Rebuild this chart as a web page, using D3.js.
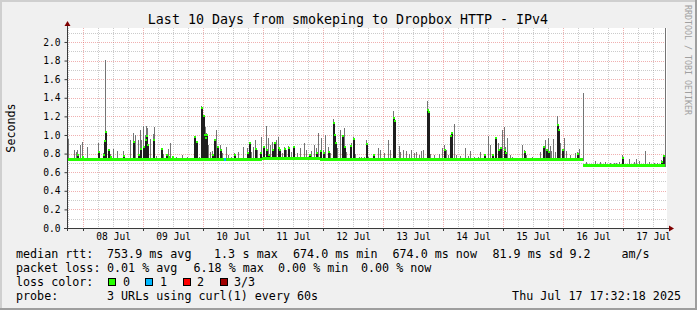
<!DOCTYPE html>
<html><head><meta charset="utf-8">
<script src="https://cdn.jsdelivr.net/npm/d3@7"></script>
<style>
html,body{margin:0;padding:0;background:#f0f0f0;}
svg{display:block;}
text{font-family:"DejaVu Sans Mono",monospace;}
</style></head><body>
<svg id="c" width="697" height="310"></svg>
<script>
// ---------------- data ----------------
const title = "Last 10 Days from smokeping to Dropbox HTTP - IPv4";
const yLabel = "Seconds";
const watermark = "RRDTOOL / TOBI OETIKER";
const startTime = "2025-07-07T17:32:18Z";
const endTime = "2025-07-17T17:32:18Z";
const yMax = 2.15;
const yMajorTicks = [0.0, 0.2, 0.4, 0.6, 0.8, 1.0, 1.2, 1.4, 1.6, 1.8, 2.0];
const yMinorTicks = [0.1, 0.3, 0.5, 0.7, 0.9, 1.1, 1.3, 1.5, 1.7, 1.9, 2.1];
const xLabelDays = ["2025-07-08","2025-07-09","2025-07-10","2025-07-11","2025-07-12",
                    "2025-07-13","2025-07-14","2025-07-15","2025-07-16","2025-07-17"];

// median baseline (hours since start)
const medianStartHours = [0, 78, 101, 206.5];
const medianEndHours   = [78, 101, 206.5, 239.2];
const medianValues     = [0.742, 0.752, 0.742, 0.677];

// smoke spikes: hour since start, max ping (s), median when elevated (0 = at baseline)
const spikeHours = [0.4,2.8,3.6,4.1,5.3,5.9,8.0,12.4,14.4,14.8,15.2,16.4,17.3,18.4,20.0,22.4,25.3,26.3,27.3,28.3,29.1,29.6,30.5,31.2,31.6,32.1,33.3,34.4,34.9,35.7,37.7,38.4,39.6,
 40.4,41.3,42.0,43.7,46.0,48.0,50.9,51.4,52.0,52.7,53.7,54.2,54.7,55.2,55.7,56.4,57.1,58.0,58.9,59.5,60.0,61.0,62.0,63.5,64.4,65.6,66.7,68.4,70.4,72.0,72.8,73.6,74.4,75.3,76.0,77.1,77.7,78.4,79.6,
 80.4,81.1,81.9,82.9,83.6,84.3,84.9,86.0,86.9,87.7,88.4,89.6,90.4,92.0,93.3,94.7,95.6,96.7,97.6,98.7,99.7,100.4,101.1,101.6,102.4,103.3,104.3,105.1,106.2,106.6,107.3,108.0,109.1,110.0,110.7,111.7,113.1,113.7,114.4,115.3,116.7,117.6,118.7,119.6,
 120.4,122.3,124.4,125.3,126.7,128.4,129.3,130.3,130.7,131.3,132.7,133.3,134.4,135.7,136.7,137.7,138.7,139.7,140.7,141.6,142.4,144.0,144.4,145.3,146.7,148.7,150.0,150.9,151.6,152.3,153.1,153.7,154.9,155.7,157.3,159.3,
 160.4,161.3,162.7,164.4,165.3,166.7,168.4,169.3,170.0,171.1,171.7,172.4,173.3,174.0,174.7,175.3,176.0,177.1,178.0,182.0,182.9,183.7,186.0,189.1,190.4,191.1,191.7,192.3,193.1,193.6,194.4,195.3,196.1,196.5,197.3,198.0,198.7,199.6,
 201.3,203.3,204.0,204.7,206.4,207.7,211.3,213.3,215.3,217.3,218.7,219.7,220.7,222.1,224.7,226.7,227.7,228.7,231.3,232.7,234.7,236.0,237.6,238.4,239.0];
const spikeMax = [0.957,0.839,0.821,0.839,0.892,0.928,0.867,0.910,0.803,0.93,1.806,0.846,0.792,0.846,0.832,0.832,0.946,1.018,1.000,0.946,1.054,0.946,1.097,1.0,1.097,1.072,0.953,1.011,1.090,0.774,0.856,0.792,0.785,
 0.846,0.910,0.767,0.767,0.785,0.767,0.982,0.939,0.874,0.767,1.312,1.2,1.0,1.090,1.018,0.892,0.821,0.832,0.946,1.054,0.874,0.892,0.810,0.867,0.785,0.767,0.803,0.821,0.867,0.856,0.918,0.821,0.867,0.946,0.839,0.803,0.975,0.867,1.097,
 0.964,0.892,0.928,0.910,0.946,0.975,0.839,0.803,0.867,0.839,0.882,0.821,0.882,0.803,0.856,0.910,0.839,0.785,0.832,0.892,0.856,1.025,0.832,0.964,0.839,1.000,0.867,0.803,1.168,1.0,0.946,0.856,1.054,0.989,1.072,0.821,0.892,0.918,0.982,0.796,0.767,0.767,0.767,0.946,
 0.767,0.785,0.856,0.839,0.803,0.946,0.839,1.262,1.15,0.785,0.882,0.821,0.839,0.832,0.792,0.839,0.803,0.821,0.785,0.832,0.839,1.369,1.25,0.796,0.785,0.792,0.856,0.892,0.839,0.785,1.000,1.025,1.118,0.785,0.774,0.856,
 0.774,0.832,0.767,0.767,0.821,0.785,0.989,0.892,0.796,0.975,0.892,0.918,0.856,1.054,1.082,0.874,0.964,0.785,0.767,0.892,0.839,0.785,0.767,0.821,0.867,0.946,0.839,0.964,0.882,0.832,0.953,0.821,1.204,1.05,0.910,0.846,0.964,0.832,
 0.785,0.803,0.821,0.846,1.448,0.713,0.724,0.713,0.713,0.702,0.702,0.702,0.713,0.785,0.738,0.713,0.738,0.724,0.828,0.713,0.702,0.695,0.731,0.774,2.2];
const spikeMedian = [0,0,0,0.785,0,0.767,0,0.821,0.785,0.93,1.036,0.839,0.767,0,0,0.774,0,0.928,0,0.785,0.846,0,0.867,0.95,0.989,0.892,0,0.946,0,0,0.846,0,0.785,
 0.767,0,0.767,0,0,0,0.982,0.92,0,0,1.287,1.2,1.0,0.964,1.0,0,0,0.785,0.946,0,0.874,0.839,0,0,0,0,0.785,0,0,0.803,0.910,0,0,0.846,0,0.803,0,0.867,0.839,
 0.785,0,0.839,0.910,0,0.856,0.839,0,0.846,0,0.856,0,0.867,0,0,0,0,0.785,0,0,0.803,0,0.832,0,0.803,0,0.821,0,1.133,1.0,0.910,0,0,0.989,0.867,0,0.882,0,0.953,0,0,0,0,0.903,
 0,0.785,0,0,0,0,0,1.179,1.15,0,0,0,0,0,0,0,0,0,0,0,0,1.269,1.25,0,0,0,0,0.839,0,0,0.989,1.025,0,0,0,0,
 0,0,0,0,0,0.785,0,0,0.785,0.964,0,0.839,0.856,0,0.839,0.803,0,0,0,0,0.821,0,0,0,0.867,0,0.839,0.821,0,0,0,0,1.108,1.05,0,0.839,0,0,
 0,0,0.796,0,0,0,0,0,0,0,0,0,0,0.749,0,0,0,0,0,0,0,0,0.713,0.774,0];

// loss events (hour since start, lost pings)
const lossHours = [62.7];
const lossCounts = [1];
const lossColors = ["#26ff00", "#00b8ff", "#ff0000", "#a00000"];
const lossLabels = ["0", "1", "2", "3/3"];

// legend text
const statRows = [
  [["median rtt:", 16], ["753.9 ms avg", 107], ["1.3", 214], ["s max", 242.6], ["674.0 ms min", 293], ["674.0 ms now", 392.5], ["81.9 ms sd", 492.5], ["9.2", 569.5], ["am/s", 621.5]],
  [["packet loss:", 16], ["0.01 % avg", 107], ["6.18 % max", 193.5], ["0.00 % min", 278], ["0.00 % now", 361]]
];
const lossRowLabel = "loss color:";
const probeLabel = "probe:";
const probeText = "3 URLs using curl(1) every 60s";
const dateText = "Thu Jul 17 17:32:18 2025";

// ---------------- drawing ----------------
const svg = d3.select("#c");
const W = 697, H = 310;
const plot = {l: 67, r: 667, t: 28, b: 228};
const t0 = new Date(startTime), t1 = new Date(endTime);
const hour = h => new Date(t0.getTime() + h * 3600e3);
const x = d3.scaleUtc().domain([t0, t1]).range([plot.l, plot.r]);
const y = d3.scaleLinear().domain([0, yMax]).range([plot.b, plot.t]);

// background + 3d border
svg.append("rect").attr("width", W).attr("height", H).attr("fill", "#f0f0f0");
svg.append("rect").attr("x",0).attr("y",0).attr("width",W).attr("height",2).attr("fill","#cfcfcf");
svg.append("rect").attr("x",0).attr("y",0).attr("width",2).attr("height",H).attr("fill","#cfcfcf");
svg.append("rect").attr("x",0).attr("y",H-2).attr("width",W).attr("height",2).attr("fill","#9e9e9e");
svg.append("rect").attr("x",W-2).attr("y",0).attr("width",2).attr("height",H).attr("fill","#9e9e9e");

// canvas
svg.append("rect").attr("x", plot.l).attr("y", plot.t).attr("width", plot.r - plot.l).attr("height", plot.b - plot.t).attr("fill", "#fff");

// grid
const grid = svg.append("g").attr("shape-rendering", "crispEdges");
const minorC = "rgba(140,140,140,0.45)", majorC = "rgba(222,80,80,0.45)";
d3.utcHour.every(6).range(t0, t1).forEach(d => {
  const isMajor = d.getUTCHours() === 0;
  grid.append("line").attr("x1", Math.round(x(d)) + 0.5).attr("x2", Math.round(x(d)) + 0.5)
    .attr("y1", plot.t).attr("y2", plot.b)
    .attr("stroke", isMajor ? majorC : minorC).attr("stroke-dasharray", "1,1");
});
yMinorTicks.forEach(v => {
  grid.append("line").attr("x1", plot.l).attr("x2", plot.r)
    .attr("y1", Math.round(y(v)) + 0.5).attr("y2", Math.round(y(v)) + 0.5)
    .attr("stroke", minorC).attr("stroke-dasharray", "1,1");
});
yMajorTicks.filter(v => v > 0).forEach(v => {
  grid.append("line").attr("x1", plot.l).attr("x2", plot.r)
    .attr("y1", Math.round(y(v)) + 0.5).attr("y2", Math.round(y(v)) + 0.5)
    .attr("stroke", majorC).attr("stroke-dasharray", "1,1");
});

// data
const baseAt = h => {
  for (let i = 0; i < medianValues.length; i++) if (h >= medianStartHours[i] && h < medianEndHours[i]) return medianValues[i];
  return medianValues[medianValues.length - 1];
};
const spikes = spikeHours.map((h, i) => ({h, max: Math.min(spikeMax[i], yMax), med: spikeMedian[i], base: baseAt(h)}));
const dataG = svg.append("g").attr("shape-rendering", "crispEdges");
const px = h => Math.round(x(hour(h)));
// smoke (light)
dataG.selectAll("rect.smoke").data(spikes).join("rect")
  .attr("x", d => px(d.h)).attr("width", 1)
  .attr("y", d => Math.round(y(d.max)))
  .attr("height", d => Math.max(0, Math.round(y(d.base - 0.02)) - Math.round(y(d.max))))
  .attr("fill", "#747474");
// smoke (dark, around elevated median)
dataG.selectAll("rect.dark").data(spikes.filter(d => d.med > 0)).join("rect")
  .attr("x", d => px(d.h)).attr("width", 2)
  .attr("y", d => Math.round(y(d.med)))
  .attr("height", d => Math.max(0, Math.round(y(d.base - 0.02)) - Math.round(y(d.med))))
  .attr("fill", "#1e1e1e");
// median band (baseline)
medianValues.forEach((v, i) => {
  dataG.append("rect")
    .attr("x", px(medianStartHours[i])).attr("width", px(medianEndHours[i]) - px(medianStartHours[i]))
    .attr("y", Math.round(y(v)) - 1.5).attr("height", 3)
    .attr("fill", lossColors[0]);
});
// median caps for elevated samples
dataG.selectAll("rect.cap").data(spikes.filter(d => d.med > d.base + 0.015)).join("rect")
  .attr("x", d => px(d.h)).attr("width", 2)
  .attr("y", d => Math.round(y(d.med)) - 1).attr("height", 2)
  .attr("fill", lossColors[0]);
// loss coloured samples
lossHours.forEach((h, i) => {
  dataG.append("rect").attr("x", px(h)).attr("width", 2)
    .attr("y", Math.round(y(baseAt(h))) - 1.5).attr("height", 3)
    .attr("fill", lossColors[lossCounts[i]]);
});

// axes lines + arrows
const axisC = "#3a3a3a";
svg.append("line").attr("x1", plot.l + 0.5).attr("x2", plot.l + 0.5).attr("y1", plot.b + 3).attr("y2", 24)
  .attr("stroke", axisC).attr("shape-rendering", "crispEdges");
svg.append("line").attr("x1", plot.l - 3).attr("x2", 670).attr("y1", plot.b + 0.5).attr("y2", plot.b + 0.5)
  .attr("stroke", axisC).attr("shape-rendering", "crispEdges");
svg.append("path").attr("d", `M${plot.l - 2.5},26 L${plot.l + 3.5},26 L${plot.l + 0.5},21 Z`).attr("fill", "#7f0000");
svg.append("path").attr("d", `M669,${plot.b - 2.5} L669,${plot.b + 3.5} L674,${plot.b + 0.5} Z`).attr("fill", "#7f0000");

// y axis labels
const yAxis = d3.axisLeft(y).tickValues(yMajorTicks).tickSize(3).tickPadding(4).tickFormat(d3.format(".1f"));
const ya = svg.append("g").attr("transform", `translate(${plot.l + 0.5},0)`).call(yAxis);
ya.select(".domain").remove();
ya.selectAll("line").attr("stroke", axisC);
ya.selectAll("text").attr("font-family", "DejaVu Sans Mono").attr("font-size", "9.6px").attr("fill", "#000");

// x axis labels at noon, ticks at midnight
const noons = xLabelDays.map(s => new Date(s + "T12:00:00Z"));
const xAxis = d3.axisBottom(x).tickValues(noons).tickSize(0).tickPadding(5).tickFormat(d3.utcFormat("%d %b"));
const xa = svg.append("g").attr("transform", `translate(0,${plot.b})`).call(xAxis);
xa.select(".domain").remove();
xa.selectAll("text").attr("font-family", "DejaVu Sans Mono").attr("font-size", "9.6px").attr("fill", "#000");
d3.utcDay.range(t0, t1).forEach(d => {
  svg.append("line").attr("x1", Math.round(x(d)) + 0.5).attr("x2", Math.round(x(d)) + 0.5)
    .attr("y1", plot.b).attr("y2", plot.b + 3).attr("stroke", axisC).attr("shape-rendering", "crispEdges");
});

// title, y label, watermark
svg.append("text").attr("x", 348).attr("y", 24).attr("text-anchor", "middle")
  .attr("font-size", "13.3px").attr("fill", "#000").text(title);
svg.append("text").attr("transform", "translate(15,128) rotate(-90)").attr("text-anchor", "middle")
  .attr("font-size", "11.7px").attr("fill", "#000").text(yLabel);
svg.append("text").attr("transform", "translate(685,60) rotate(90)").attr("text-anchor", "middle")
  .attr("font-size", "8.3px").attr("fill", "#a0a0a0").text(watermark);

// legend
const fs = "11.7px";
const rowY = [258.3, 272.3, 286, 299.7];
statRows.forEach((row, r) => row.forEach(([t, xx]) => {
  svg.append("text").attr("x", xx).attr("y", rowY[r]).attr("font-size", fs).attr("fill", "#000").attr("xml:space", "preserve").text(t);
}));
svg.append("text").attr("x", 16).attr("y", rowY[2]).attr("font-size", fs).text(lossRowLabel);
const boxX = [108, 145, 182.5, 219.5], lblX = [123, 160, 197, 234];
lossLabels.forEach((l, i) => {
  svg.append("rect").attr("x", boxX[i] + 0.5).attr("y", 278.5).attr("width", 7).attr("height", 7)
    .attr("fill", lossColors[i]).attr("stroke", "#000").attr("shape-rendering", "crispEdges");
  svg.append("text").attr("x", lblX[i]).attr("y", rowY[2]).attr("font-size", fs).text(l);
});
svg.append("text").attr("x", 16).attr("y", rowY[3]).attr("font-size", fs).text(probeLabel);
svg.append("text").attr("x", 107).attr("y", rowY[3]).attr("font-size", fs).text(probeText);
svg.append("text").attr("x", 681).attr("y", rowY[3]).attr("text-anchor", "end").attr("font-size", fs).text(dateText);
</script></body></html>
